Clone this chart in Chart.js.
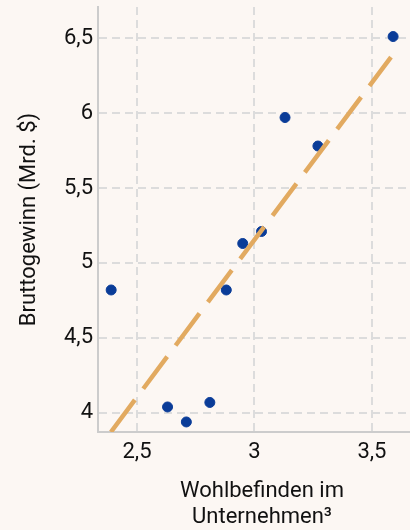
<!DOCTYPE html>
<html>
<head>
<meta charset="utf-8">
<script src="https://cdn.jsdelivr.net/npm/chart.js@4"></script>
<style>
  html, body { margin: 0; padding: 0; background: #fcf7f3; overflow: hidden; }
  #wrap { width: 426px; height: 530px; }
</style>
</head>
<body>
<div id="wrap"><canvas id="chartCanvas"></canvas></div>
<script>
// Wohlbefinden (x) vs. Bruttogewinn (y)
const wellbeing = [2.39, 2.63, 2.71, 2.81, 2.88, 2.95, 3.03, 3.13, 3.27, 3.59];
const grossProfit = [4.82, 4.04, 3.94, 4.07, 4.82, 5.13, 5.21, 5.97, 5.78, 6.51];
const trendX = [2.389, 3.581];
const trendY = [3.873, 6.373];
const xTicks = [2.5, 3, 3.5];
const yTicks = [4, 4.5, 5, 5.5, 6, 6.5];

const fmt = (v) => String(v).replace(".", ",");
const font = { family: "Roboto", size: 22, lineHeight: 1.2 };

const ctxChart = document.getElementById("chartCanvas").getContext("2d");

// the plot runs on past the right edge of the 410px window
const chart = new Chart(ctxChart, {
  type: "scatter",
  data: {
    datasets: [
      {
        label: "Trend",
        type: "line",
        data: trendX.map((x, i) => ({ x: x, y: trendY[i] })),
        borderColor: "#e2aa60",
        borderWidth: 4.5,
        borderDash: [40, 14],
        borderCapStyle: "butt",
        pointRadius: 0,
        fill: false,
      },
      {
        label: "Unternehmen",
        data: wellbeing.map((x, i) => ({ x: x, y: grossProfit[i] })),
        backgroundColor: "#0a3c98",
        borderColor: "#0a3c98",
        pointRadius: 5,
        pointHoverRadius: 5,
      },
    ],
  },
  options: {
    responsive: true,
    maintainAspectRatio: false,
    animation: false,
    layout: { autoPadding: false, padding: { left: 0, right: 0, top: 7, bottom: 0 } },
    plugins: { legend: { display: false }, tooltip: { enabled: false } },
    scales: {
      x: {
        type: "linear",
        min: 2.334,
        max: 3.73,
        afterBuildTicks: (axis) => { axis.ticks = xTicks.map((v) => ({ value: v })); },
        afterFit: (s) => { s.height = 98; s.paddingLeft = 0; s.paddingRight = 0; },
        ticks: { callback: fmt, color: "#111", font: font, padding: 7 },
        grid: { color: "#dcdcdc", lineWidth: 2, drawTicks: false },
        border: { color: "#cccccc", width: 2, dash: [8, 5] },
        title: {
          display: true,
          text: ["Wohlbefinden im", "Unternehmen³"],
          color: "#111",
          font: font,
          padding: { top: 0, bottom: -1 },
        },
      },
      y: {
        min: 3.873,
        max: 6.707,
        afterBuildTicks: (axis) => { axis.ticks = yTicks.map((v) => ({ value: v })); },
        afterFit: (s) => { s.width = 98; s.paddingTop = 0; s.paddingBottom = 0; },
        ticks: { callback: fmt, color: "#111", font: font, padding: 5 },
        grid: { color: "#dcdcdc", lineWidth: 2, drawTicks: false },
        border: { color: "#cccccc", width: 2, dash: [8, 5] },
        title: {
          display: true,
          text: "Bruttogewinn (Mrd. $)",
          color: "#111",
          font: font,
          padding: { top: 16, bottom: 0 },
        },
      },
    },
  },
});
</script>
</body>
</html>
